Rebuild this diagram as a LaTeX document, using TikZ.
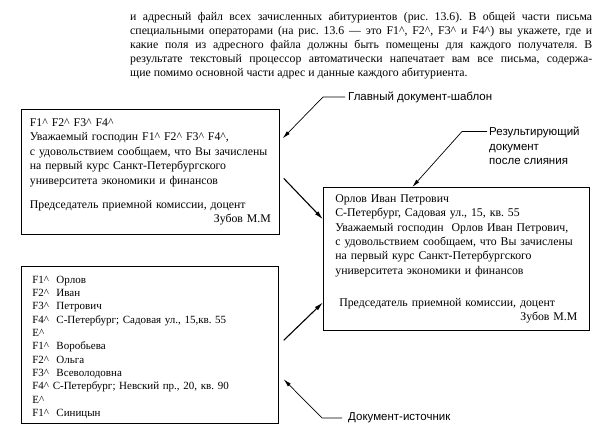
\documentclass[tikz,border=0pt]{standalone}
\usepackage{fontspec}
\setmainfont{Liberation Serif}
\newfontfamily\lblfont{Liberation Sans}
\usepackage{tikz}
\usetikzlibrary{arrows.meta,positioning,calc}
\newcommand{\ca}{\textasciicircum}
\frenchspacing
\tikzset{
  docbox/.style={draw, line width=0.7pt, anchor=north west, align=left, inner ysep=0pt, font=\rmfamily\fontsize{11.8}{14.4}\selectfont},
  para/.style={anchor=north west, inner sep=0pt, text width=462pt, align=justify, font=\rmfamily\fontsize{11.8}{14}\selectfont},
  lbl/.style={anchor=west, inner sep=0pt, align=left, font=\lblfont\fontsize{11.5}{14.5}\selectfont},
  arr/.style={-{Latex[length=9pt,width=4.5pt]}, line width=1.1pt},
  lead/.style={-{Latex[length=8pt,width=4pt]}, line width=0.7pt}}
\begin{document}
\begin{tikzpicture}[x=1pt,y=-1pt]
  \useasboundingbox (0,0) rectangle (605,436);
  \node[para] (intro) at (130,11.5) {и адресный файл всех зачисленных абитуриентов (рис. 13.6). В общей части письма\linebreak
    специальными операторами (на рис. 13.6 --- это F1\ca, F2\ca, F3\ca{} и F4\ca) вы укажете, где и\linebreak
    какие поля из адресного файла должны быть помещены для каждого получателя. В\linebreak
    результате текстовый процессор автоматически напечатает вам все письма, содержа-\linebreak
    щие помимо основной части адрес и данные каждого абитуриента.};
  \node[docbox, minimum width=258pt, minimum height=125pt, inner xsep=8.5pt, text width=241pt] (tmpl) at (21,109) {%
    F1\ca{} F2\ca{} F3\ca{} F4\ca\\ Уважаемый господин F1\ca{} F2\ca{} F3\ca{} F4\ca,\\
    с удовольствием сообщаем, что Вы зачислены\\ на первый курс Санкт-Петербургского\\
    университета экономики и финансов\\[9.7pt] Председатель приемной комиссии, доцент\\ \hspace*{\fill}Зубов М.М};
  \node[docbox, minimum width=266pt, minimum height=143pt, inner xsep=12pt, text width=242pt] (res) at (323,187) {%
    Орлов Иван Петрович\\ С-Петербург, Садовая ул., 15, кв. 55\\ Уважаемый господин\ \ Орлов Иван Петрович,\\
    с удовольствием сообщаем, что Вы зачислены\\ на первый курс Санкт-Петербургского\\
    университета экономики и финансов\\[17.5pt] \ Председатель приемной комиссии, доцент\\ \hspace*{\fill}Зубов М.М};
  \node[docbox, minimum width=257pt, minimum height=157pt, inner xsep=11pt, text width=235pt, font=\rmfamily\fontsize{11}{13.33}\selectfont] (src) at (21,266) {%
    \rule{0pt}{12.2pt}F1\ca\ \ Орлов\\ F2\ca\ \ Иван\\ F3\ca\ \ Петрович\\ F4\ca\ \ С-Петербург; Садовая ул., 15,кв. 55\\ E\ca\\
    F1\ca\ \ Воробьева\\ F2\ca\ \ Ольга\\ F3\ca\ \ Всеволодовна\\ F4\ca{} С-Петербург; Невский пр., 20, кв. 90\\ E\ca\\ F1\ca\ \ Синицын};
  \node[lbl] (lblmain) at (348,97) {Главный документ-шаблон};
  \node[lbl] (lblres) at (489,146) {Результирующий\\документ\\после слияния};
  \node[lbl] (lblsrc) at (348,418) {Документ-источник};
  \draw[lead] ([xshift=-3pt]lblmain.west) -- ++(-22,0) -- ([xshift=3pt,yshift=33.5pt]tmpl.east);
  \draw[lead] ([xshift=-2pt,yshift=14.5pt]lblres.west) -- ++(-25,0) -- ([xshift=-44pt]res.north);
  \draw[lead] ([xshift=-6pt]lblsrc.west) -- ++(-20,0) -- ([xshift=5pt,yshift=-34.5pt]src.east);
  \draw[arr] ([xshift=4pt,yshift=-6.5pt]tmpl.east) -- ([yshift=39.5pt]res.west);
  \draw[arr] ([xshift=5pt,yshift=4.5pt]src.east) -- ([yshift=-43.5pt]res.west);
\end{tikzpicture}
\end{document}
